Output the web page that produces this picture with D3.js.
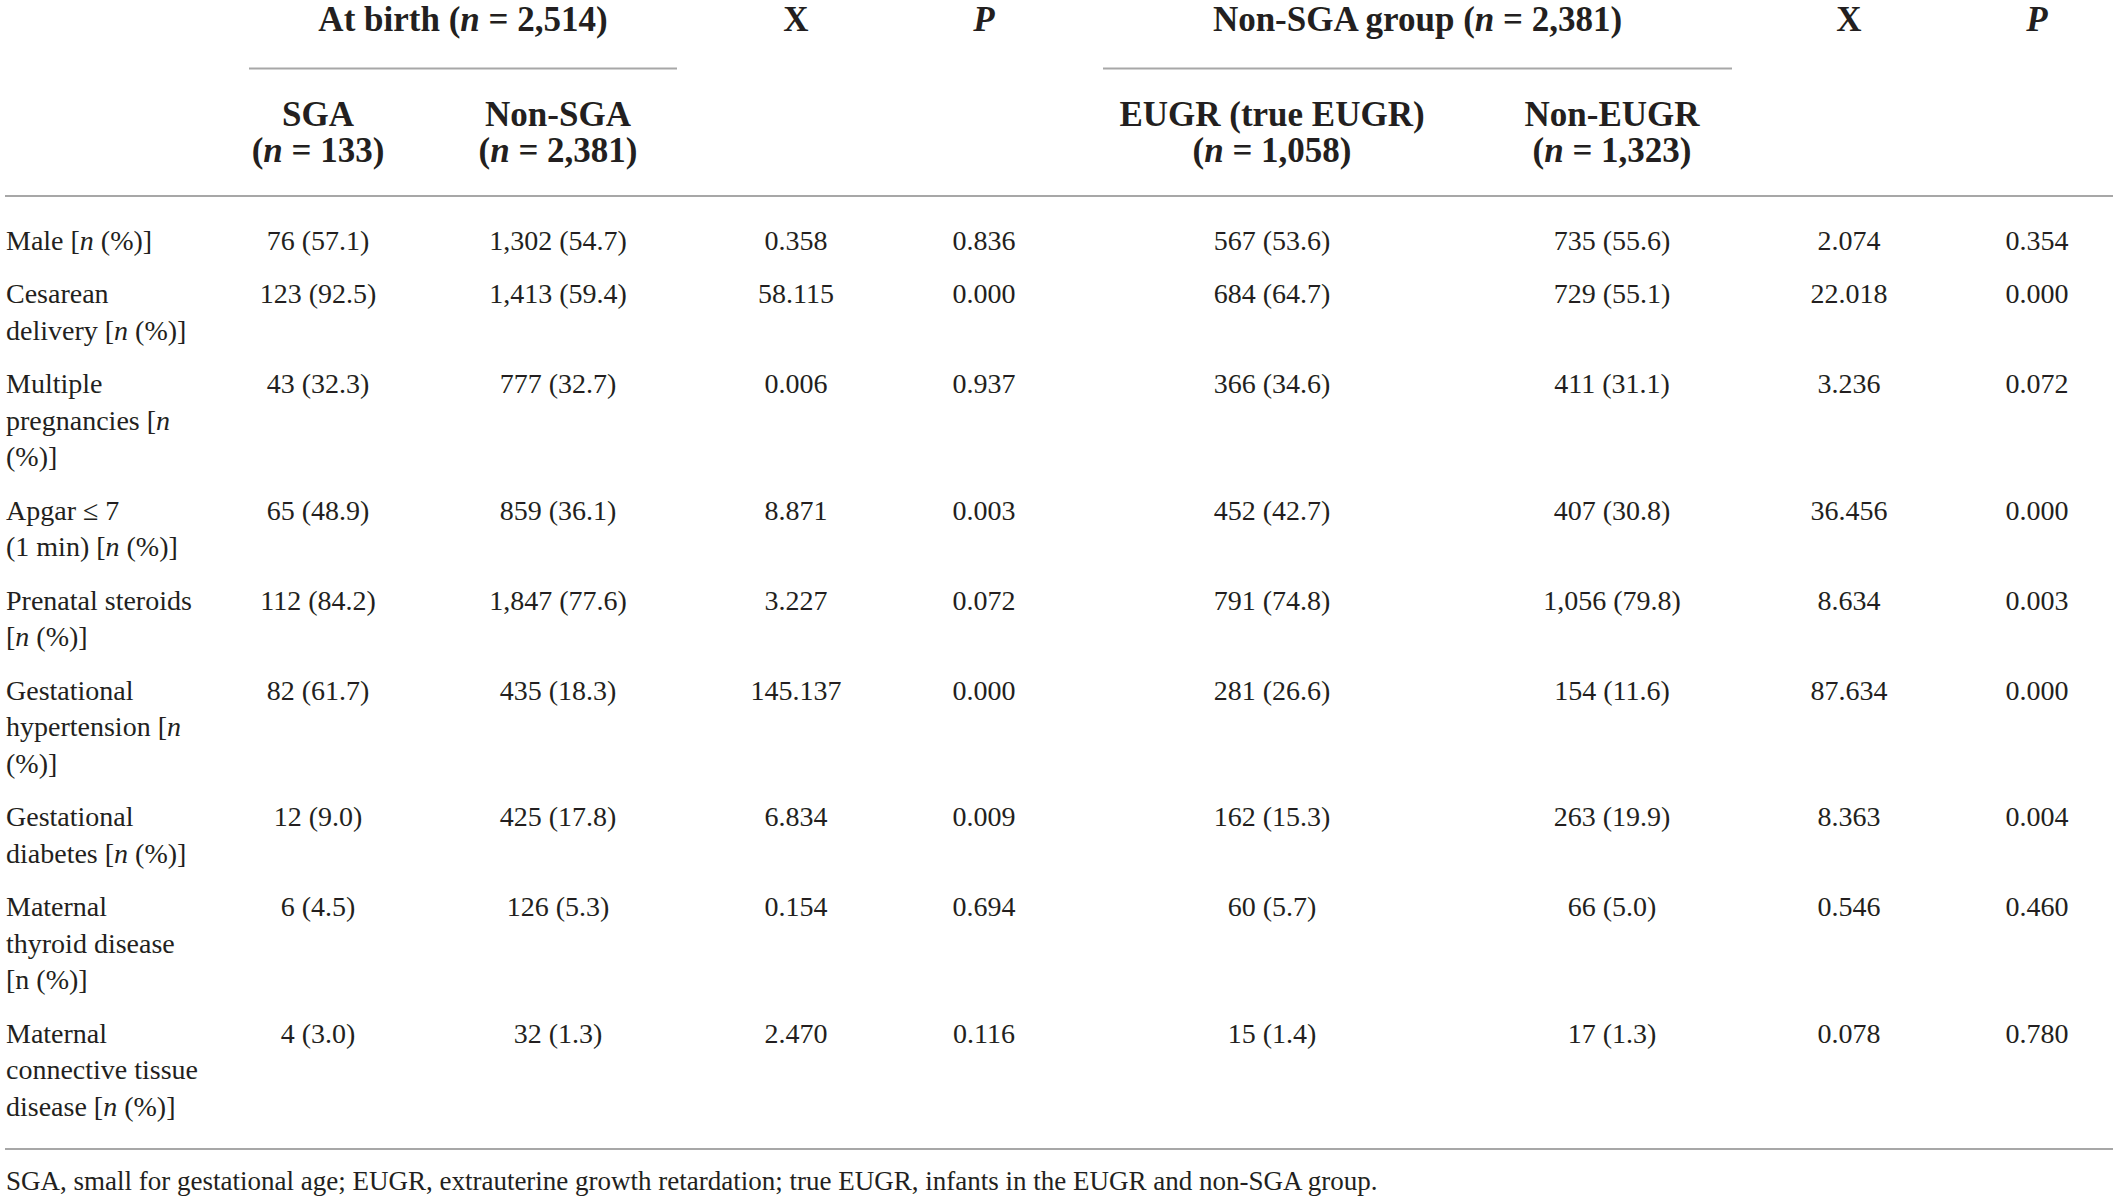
<!DOCTYPE html>
<html>
<head>
<meta charset="utf-8">
<script src="https://cdn.jsdelivr.net/npm/d3@7"></script>
<style>
  body { margin: 0; background: #fff; }
  text { font-family: "Liberation Serif", "Times New Roman", serif; fill: #231f20; white-space: pre; }
</style>
</head>
<body>
<svg id="table1" width="2117" height="1203"></svg>
<script>
// row labels, one array per wrapped line; {..} marks italic text
const rowLabels = [
  ["Male [{n} (%)]"],
  ["Cesarean", "delivery [{n} (%)]"],
  ["Multiple", "pregnancies [{n}", "(%)]"],
  ["Apgar \u2264 7", "(1 min) [{n} (%)]"],
  ["Prenatal steroids", "[{n} (%)]"],
  ["Gestational", "hypertension [{n}", "(%)]"],
  ["Gestational", "diabetes [{n} (%)]"],
  ["Maternal", "thyroid disease", "[n (%)]"],
  ["Maternal", "connective tissue", "disease [{n} (%)]"]
];

// column values
const sgaVals = ["76 (57.1)", "123 (92.5)", "43 (32.3)", "65 (48.9)", "112 (84.2)", "82 (61.7)", "12 (9.0)", "6 (4.5)", "4 (3.0)"];
const nonSgaVals = ["1,302 (54.7)", "1,413 (59.4)", "777 (32.7)", "859 (36.1)", "1,847 (77.6)", "435 (18.3)", "425 (17.8)", "126 (5.3)", "32 (1.3)"];
const x1Vals = ["0.358", "58.115", "0.006", "8.871", "3.227", "145.137", "6.834", "0.154", "2.470"];
const p1Vals = ["0.836", "0.000", "0.937", "0.003", "0.072", "0.000", "0.009", "0.694", "0.116"];
const eugrVals = ["567 (53.6)", "684 (64.7)", "366 (34.6)", "452 (42.7)", "791 (74.8)", "281 (26.6)", "162 (15.3)", "60 (5.7)", "15 (1.4)"];
const nonEugrVals = ["735 (55.6)", "729 (55.1)", "411 (31.1)", "407 (30.8)", "1,056 (79.8)", "154 (11.6)", "263 (19.9)", "66 (5.0)", "17 (1.3)"];
const x2Vals = ["2.074", "22.018", "3.236", "36.456", "8.634", "87.634", "8.363", "0.546", "0.078"];
const p2Vals = ["0.354", "0.000", "0.072", "0.000", "0.003", "0.000", "0.004", "0.460", "0.780"];

// header texts
const colKeys = ["sga", "nonSga", "x1", "p1", "eugr", "nonEugr", "x2", "p2"];
const groupHeads = ["At birth ({n} = 2,514)", "Non-SGA group ({n} = 2,381)"];
const subHeads = [["SGA", "({n} = 133)"], ["Non-SGA", "({n} = 2,381)"], ["EUGR (true EUGR)", "({n} = 1,058)"], ["Non-EUGR", "({n} = 1,323)"]];
const statHeads = ["X", "{P}", "X", "{P}"];
const footnote = "SGA, small for gestational age; EUGR, extrauterine growth retardation; true EUGR, infants in the EUGR and non-SGA group.";

const svg = d3.select("#table1");
const W = +svg.attr("width");
const H = +svg.attr("height");
svg.append("rect").attr("width", W).attr("height", H).attr("fill", "#fff");

// layout
const bodyFont = 28;
const headFont = 35;
const lineH = 36.6;   // line height inside a row
const rowGap = 16.8;  // extra space between rows
const firstBase = 249.5;
const ruleColor = "#a7a7a7";

const x = d3.scaleOrdinal().domain(colKeys).range([318, 558, 796, 984, 1272, 1612, 1849, 2037]);
const groupSpan = [[249, 677], [1103, 1732]];
const yLine = d3.scaleLinear().domain([0, 1]).range([firstBase, firstBase + lineH]);

// writes a string into a text element, {..} parts in italics
function rich(sel, str) {
  str.split(/(\{[^}]*\})/).forEach(function (part) {
    if (!part) return;
    const it = part.charAt(0) === "{";
    sel.append("tspan")
      .style("font-style", it ? "italic" : null)
      .text(it ? part.slice(1, -1) : part);
  });
}

// header row 1
const groupCenters = groupSpan.map((s) => (s[0] + s[1]) / 2);
groupHeads.forEach(function (h, i) {
  const t = svg.append("text")
    .attr("x", groupCenters[i]).attr("y", 31)
    .attr("text-anchor", "middle")
    .attr("font-size", headFont).attr("font-weight", "bold");
  rich(t, h);
  svg.append("line")
    .attr("x1", groupSpan[i][0]).attr("x2", groupSpan[i][1])
    .attr("y1", 68.5).attr("y2", 68.5)
    .attr("stroke", ruleColor).attr("stroke-width", 2);
});
["x1", "p1", "x2", "p2"].forEach(function (k, i) {
  const t = svg.append("text")
    .attr("x", x(k)).attr("y", 31)
    .attr("text-anchor", "middle")
    .attr("font-size", headFont).attr("font-weight", "bold");
  rich(t, statHeads[i]);
});

// header row 2
["sga", "nonSga", "eugr", "nonEugr"].forEach(function (k, i) {
  subHeads[i].forEach(function (line, j) {
    const t = svg.append("text")
      .attr("x", x(k)).attr("y", 125.5 + j * 36)
      .attr("text-anchor", "middle")
      .attr("font-size", headFont).attr("font-weight", "bold");
    rich(t, line);
  });
});

svg.append("line")
  .attr("x1", 5).attr("x2", W - 4)
  .attr("y1", 196).attr("y2", 196)
  .attr("stroke", ruleColor).attr("stroke-width", 2);

// body rows
const lineCounts = rowLabels.map((d) => d.length);
const cumLines = [0].concat(Array.from(d3.cumsum(lineCounts)));
const rowY = (i, k) => yLine(cumLines[i] + k) + i * rowGap;

const columns = [sgaVals, nonSgaVals, x1Vals, p1Vals, eugrVals, nonEugrVals, x2Vals, p2Vals];

rowLabels.forEach(function (lines, i) {
  lines.forEach(function (line, k) {
    const t = svg.append("text")
      .attr("x", 6).attr("y", rowY(i, k))
      .attr("font-size", bodyFont);
    rich(t, line);
  });
});

columns.forEach(function (vals, c) {
  svg.append("g")
    .selectAll("text")
    .data(vals)
    .join("text")
    .attr("x", x(colKeys[c]))
    .attr("y", (d, i) => rowY(i, 0))
    .attr("text-anchor", "middle")
    .attr("font-size", bodyFont)
    .text((d) => d);
});

// bottom rule and footnote
const last = rowLabels.length - 1;
const bottomY = rowY(last, lineCounts[last] - 1) + 33;
svg.append("line")
  .attr("x1", 5).attr("x2", W - 4)
  .attr("y1", bottomY).attr("y2", bottomY)
  .attr("stroke", ruleColor).attr("stroke-width", 2);

svg.append("text")
  .attr("x", 6).attr("y", bottomY + 41)
  .attr("font-size", 27)
  .text(footnote);
</script>
</body>
</html>
